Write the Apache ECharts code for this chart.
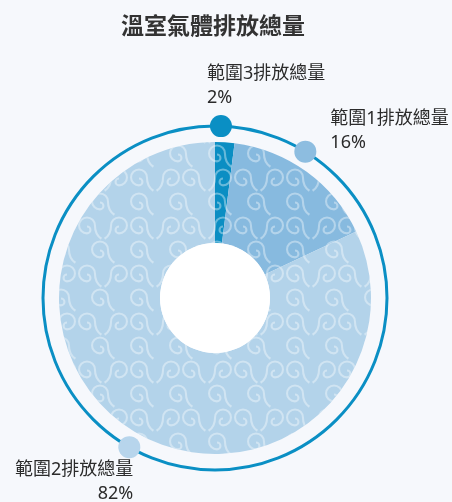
<!DOCTYPE html>
<html>
<head>
<meta charset="utf-8">
<script src="https://cdn.jsdelivr.net/npm/echarts@6/dist/echarts.min.js"></script>
<style>
html,body{margin:0;padding:0;background:#f6f8fc;}
#chart{width:452px;height:502px;}
</style>
</head>
<body>
<div id="chart"></div>
<script>
var categories = ['範圍3排放總量', '範圍1排放總量', '範圍2排放總量'];
var values = [2, 16, 82];
var percentLabels = ['2%', '16%', '82%'];
var markerPos = [0.55, 8.8, 58.3]; // position of ring markers along the ring (percent of circle)
var sliceColors = ['#0b8ec3', '#87badf', '#b3d3ea'];
var dotColors = ['#0a8fc4', '#8dbde0', '#b7d5ec'];

var FONT = "'Noto Sans', 'Noto Sans CJK TC', sans-serif";
var CX = 215, CY = 298;

var swirlA = 'path://M8 22 A12 12 0 1 1 20 34 A6 6 0 0 1 20 22 L20 24.8 A3.2 3.2 0 0 0 20 31.2 A9.2 9.2 0 1 0 10.8 22 Q10.8 35 1.5 41 L0 38.6 Q8 33 8 22 Z';
var swirlB = 'path://M32 22 A12 12 0 1 0 20 34 A6 6 0 0 0 20 22 L20 24.8 A3.2 3.2 0 0 1 20 31.2 A9.2 9.2 0 1 1 29.2 22 Q29.2 35 38.5 41 L40 38.6 Q32 33 32 22 Z';

var labelCfg = [
  {position: [-3, -53], align: 'left'},
  {position: [36, -34], align: 'left'},
  {position: [15, 22], align: 'right'}
];

var chart = echarts.init(document.getElementById('chart'));
chart.setOption({
  backgroundColor: '#f6f8fc',
  animation: false,
  title: {
    text: '溫室氣體排放總量',
    left: 116,
    top: 11,
    textStyle: {fontFamily: FONT, fontSize: 23, fontWeight: 'bold', color: '#333'}
  },
  polar: {center: [CX, CY], radius: 172},
  angleAxis: {
    type: 'value', min: 0, max: 100, startAngle: 90, clockwise: true,
    axisLine: {show: true, lineStyle: {color: '#0a8fc4', width: 3}},
    axisTick: {show: false}, axisLabel: {show: false}, splitLine: {show: false}
  },
  radiusAxis: {type: 'value', min: 0, max: 1, show: false},
  series: [
    {
      type: 'pie',
      center: [CX, CY],
      radius: [55, 156],
      startAngle: 90,
      clockwise: true,
      silent: true,
      label: {show: false},
      labelLine: {show: false},
      data: categories.map(function (c, i) {
        return {
          name: c, value: values[i],
          itemStyle: {
            color: sliceColors[i],
            decal: {
              symbol: [swirlA, swirlB],
              symbolSize: 1,
              symbolKeepAspect: true,
              color: 'rgba(255,255,255,0.38)',
              dashArrayX: [[24, 2], [0, 13, 24, 2]],
              dashArrayY: [24, 0],
              rotation: 0
            }
          }
        };
      })
    },
    {
      type: 'pie',
      center: [CX, CY],
      radius: [0, 55],
      silent: true,
      label: {show: false},
      labelLine: {show: false},
      itemStyle: {color: '#ffffff'},
      data: [{value: 1, name: 'hole'}]
    },
    {
      type: 'scatter',
      coordinateSystem: 'polar',
      symbol: 'circle',
      symbolSize: 22,
      silent: true,
      itemStyle: {opacity: 1},
      data: categories.map(function (c, i) {
        return {
          name: c,
          value: [1, markerPos[i]],
          itemStyle: {color: dotColors[i], opacity: 1},
          label: {
            show: true,
            position: labelCfg[i].position,
            align: labelCfg[i].align,
            verticalAlign: 'top',
            formatter: c + '\n' + percentLabels[i],
            fontFamily: FONT,
            fontSize: 18,
            lineHeight: 24,
            color: '#2b2b2b'
          }
        };
      })
    }
  ]
});
</script>
</body>
</html>
